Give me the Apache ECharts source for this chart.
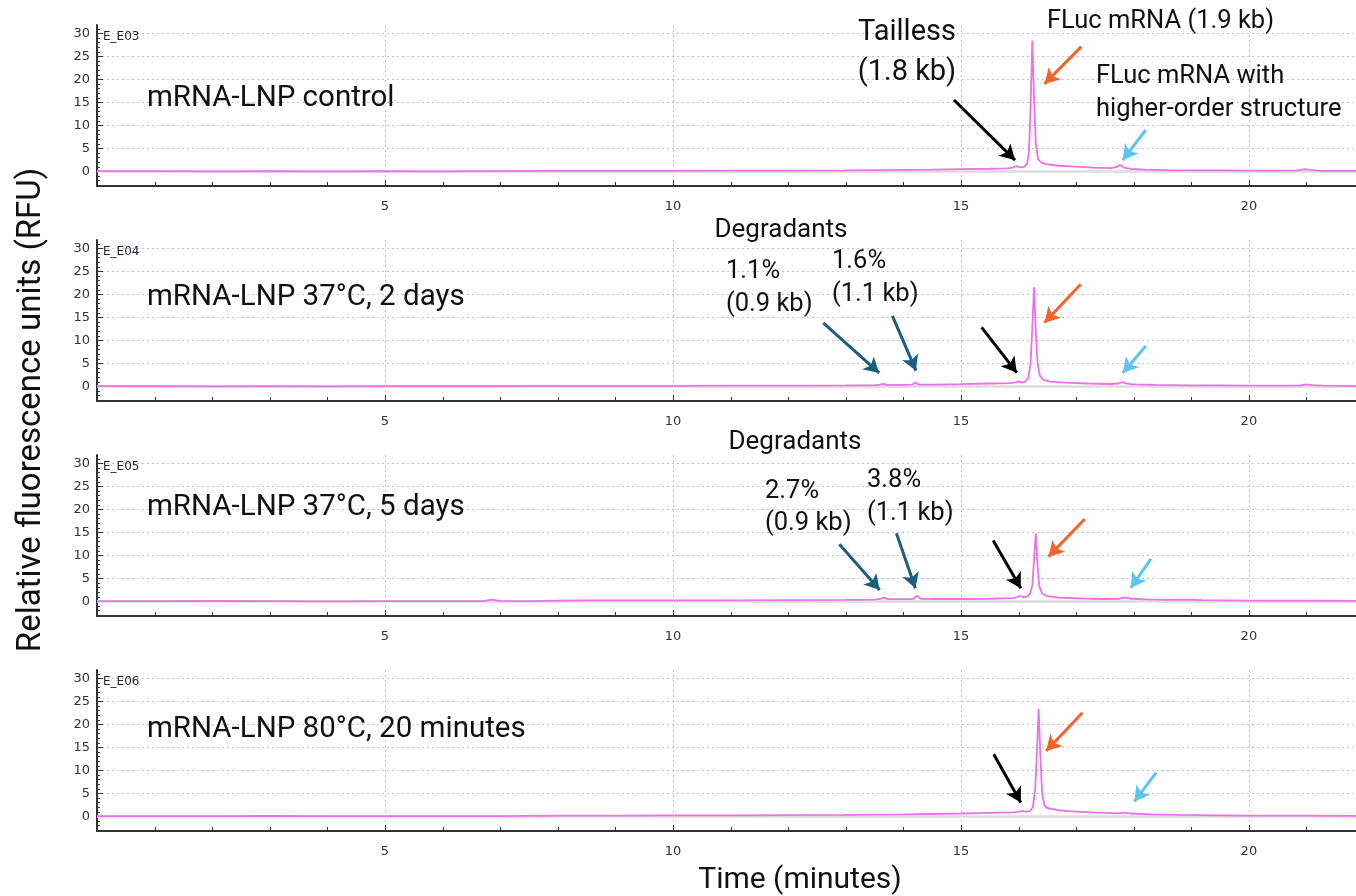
<!DOCTYPE html>
<html>
<head>
<meta charset="utf-8">
<script src="https://cdn.jsdelivr.net/npm/echarts@6/dist/echarts.min.js"></script>
<style>
html,body{margin:0;padding:0;background:#fff;}
#chart{width:1356px;height:896px;}
</style>
</head>
<body>
<div id="chart"></div>
<script>
// ---------- data ----------
const sampleNames = ['mRNA-LNP control', 'mRNA-LNP 37°C, 2 days', 'mRNA-LNP 37°C, 5 days', 'mRNA-LNP 80°C, 20 minutes'];
const wellIds = ['E_E03', 'E_E04', 'E_E05', 'E_E06'];
const xTickLabels = [5, 10, 15, 20];
const xMinorTicks = [1, 2, 3, 4, 6, 7, 8, 9, 11, 12, 13, 14, 16, 17, 18, 19, 21];
const yTickLabels = [0, 5, 10, 15, 20, 25, 30];
const yMinorTicks = [-3, -2, -1, 1, 2, 3, 4, 6, 7, 8, 9, 11, 12, 13, 14, 16, 17, 18, 19, 21, 22, 23, 24, 26, 27, 28, 29, 31];

// traces: [time (min), RFU]
const traceE03 = [[0,0.05],[1,0.05],[2,0.0],[3,0.05],[4,0.0],[5,0.05],[6,0.0],[7,0.05],[8,0.1],[9,0.1],[10,0.1],[11,0.15],[12,0.15],[13,0.2],[14,0.3],[14.5,0.35],[15,0.45],[15.5,0.55],[15.8,0.65],[15.9,0.8],[15.97,1.15],[16.03,0.85],[16.1,0.95],[16.15,1.6],[16.18,4],[16.21,14],[16.24,28.4],[16.27,16],[16.3,6],[16.34,2.6],[16.4,1.9],[16.5,1.5],[16.7,1.2],[17,1.0],[17.3,0.8],[17.6,0.7],[17.7,0.9],[17.76,1.35],[17.83,0.8],[17.95,0.5],[18.2,0.35],[18.6,0.25],[19,0.2],[19.5,0.2],[20,0.15],[20.5,0.15],[20.85,0.2],[20.97,0.45],[21.07,0.3],[21.2,0.12],[21.86,0.1]];
const traceE04 = [[0,0.05],[1,0.05],[2,0.0],[3,0.05],[4,0.0],[5,0.05],[6,0.05],[7,0.05],[8,0.1],[9,0.1],[10,0.1],[11,0.15],[12,0.15],[13,0.2],[13.5,0.25],[13.6,0.35],[13.65,0.5],[13.72,0.3],[14.0,0.3],[14.15,0.35],[14.21,0.8],[14.27,0.35],[14.6,0.35],[15,0.45],[15.5,0.6],[15.85,0.7],[15.93,0.8],[16.0,1.05],[16.06,0.8],[16.12,1.0],[16.17,1.8],[16.21,5],[16.24,13],[16.27,21.6],[16.3,12],[16.33,5],[16.37,2.3],[16.43,1.4],[16.55,1.0],[16.8,0.8],[17.2,0.6],[17.6,0.5],[17.72,0.6],[17.8,0.9],[17.88,0.6],[18.0,0.4],[18.4,0.3],[19,0.2],[19.5,0.2],[20,0.15],[20.5,0.15],[20.9,0.2],[21.0,0.4],[21.1,0.25],[21.3,0.15],[21.86,0.1]];
const traceE05 = [[0,0.05],[1,0.05],[2,0.1],[3,0.05],[4,0.0],[5,0.05],[6,0.05],[6.7,0.05],[6.85,0.35],[7.0,0.1],[7.5,0.05],[8,0.15],[8.5,0.2],[9,0.2],[10,0.2],[11,0.2],[12,0.25],[13,0.3],[13.5,0.35],[13.6,0.5],[13.66,0.8],[13.73,0.45],[14.0,0.45],[14.17,0.5],[14.24,1.2],[14.3,0.55],[14.6,0.5],[15,0.5],[15.5,0.55],[15.9,0.7],[15.97,0.85],[16.03,1.15],[16.09,0.9],[16.15,1.0],[16.2,1.6],[16.24,3.5],[16.27,9],[16.3,14.8],[16.33,8],[16.36,3.3],[16.41,1.7],[16.5,1.1],[16.7,0.8],[17.1,0.6],[17.5,0.5],[17.75,0.55],[17.85,0.85],[17.95,0.55],[18.2,0.4],[18.6,0.3],[18.9,0.35],[19.2,0.25],[19.6,0.2],[20,0.15],[20.5,0.15],[21,0.15],[21.86,0.1]];
const traceE06 = [[0,0.05],[1,0.05],[2,0.05],[3,0.1],[4,0.05],[5,0.05],[6,0.05],[7,0.05],[8,0.15],[9,0.15],[10,0.2],[11,0.2],[12,0.25],[13,0.3],[14,0.4],[14.5,0.5],[15,0.6],[15.5,0.75],[15.9,0.85],[16.0,0.95],[16.07,1.15],[16.13,0.95],[16.2,1.1],[16.25,2],[16.29,6],[16.32,14],[16.35,23.3],[16.38,13],[16.41,5],[16.45,2.4],[16.5,1.8],[16.7,1.3],[17.0,1.0],[17.4,0.8],[17.75,0.65],[17.85,0.8],[17.95,0.6],[18.3,0.4],[18.8,0.3],[19.5,0.2],[20,0.15],[21,0.15],[21.86,0.1]];
const traces = [traceE03, traceE04, traceE05, traceE06];

// annotation arrows per panel: [fromTime, fromRFU, toTime, toRFU, kind]
const arrowsE03 = [[14.88,15.5,15.94,2.43,'tailless'],[17.09,27.1,16.45,19.0,'main'],[18.21,8.97,17.81,2.43,'hos']];
const arrowsE04 = [[12.61,13.8,13.58,2.9,'deg'],[13.81,15.3,14.22,3.4,'deg'],[15.36,12.8,15.97,2.96,'tailless'],[17.08,22.2,16.45,13.8,'main'],[18.21,8.77,17.81,2.9,'hos']];
const arrowsE05 = [[12.89,12.4,13.59,2.46,'deg'],[13.88,14.8,14.21,2.83,'deg'],[15.56,13.2,16.04,2.83,'tailless'],[17.15,17.9,16.52,9.7,'main'],[18.30,9.2,17.95,2.9,'hos']];
const arrowsE06 = [[15.57,13.5,16.04,3.0,'tailless'],[17.11,22.5,16.48,14.2,'main'],[18.39,9.5,18.01,3.2,'hos']];
const arrows = [arrowsE03, arrowsE04, arrowsE05, arrowsE06];

// ---------- layout / style ----------
const FONT = 'Roboto';
const arrowColors = {tailless:'#000000', main:'#f8622a', hos:'#5cc6ee', deg:'#1b5e7e'};
const gridLeft = 97, gridH = 161, gridTops = [25, 240, 455, 670];
const X_MAX = 21.86, Y_MIN = -3.2, Y_MAX = 31.8;
const GRID_COLOR = '#c4c4c4', TICK_COLOR = '#333';

const grids = [], xAxes = [], yAxes = [], series = [];
gridTops.forEach((top, i) => {
  grids.push({left: gridLeft, right: 0, top: top, height: gridH, containLabel: false, outerBoundsMode: 'none'});
  xAxes.push({
    type: 'value', gridIndex: i, position: 'bottom', min: 0, max: X_MAX, interval: 5,
    axisLine: {show: true, onZero: false, lineStyle: {color: '#333', width: 2}},
    axisTick: {show: false},
    axisLabel: {show: true, customValues: xTickLabels, fontSize: 13, color: '#333', margin: 14, fontFamily: 'DejaVu Sans'},
    splitLine: {show: false}
  });
  yAxes.push({
    type: 'value', gridIndex: i, position: 'left', min: Y_MIN, max: Y_MAX,
    axisLine: {show: true, onZero: false, lineStyle: {color: '#333', width: 2}},
    axisTick: {show: false},
    axisLabel: {show: true, customValues: yTickLabels, fontSize: 13, color: '#333', margin: 7, fontFamily: 'DejaVu Sans'},
    splitLine: {show: false}
  });
  // grey baseline at zero
  series.push({
    type: 'line', xAxisIndex: i, yAxisIndex: i, data: [], z: 1, silent: true,
    markLine: {silent: true, z: 1, symbol: ['none', 'none'], label: {show: false}, animation: false,
      lineStyle: {color: '#dcdcdc', width: 2.5, type: 'solid'}, data: [{yAxis: 0}]}
  });
  // trace
  series.push({
    type: 'line', xAxisIndex: i, yAxisIndex: i, data: traces[i], z: 5,
    showSymbol: false, symbol: 'none', smooth: false, animation: false,
    lineStyle: {color: '#ee70ea', width: 1.8}
  });
  // arrows
  series.push({
    type: 'line', xAxisIndex: i, yAxisIndex: i, data: [], z: 6, silent: true,
    markLine: {silent: true, z: 6, animation: false, symbol: ['none', 'arrow'], symbolSize: [13, 15],
      label: {show: false},
      data: arrows[i].map(a => [
        {coord: [a[0], a[1]], lineStyle: {color: arrowColors[a[4]], width: 3, type: 'solid'}},
        {coord: [a[2], a[3]]}
      ])}
  });
});

const chart = echarts.init(document.getElementById('chart'), null, {renderer: 'canvas'});
chart.setOption({
  backgroundColor: '#ffffff',
  animation: false,
  grid: grids,
  xAxis: xAxes,
  yAxis: yAxes,
  series: series
});

// ---------- grid lines, ticks (positions from the chart's own scales) ----------
const graphic = [];
function seg(x1, y1, x2, y2, color, dash, z) {
  graphic.push({type: 'line', silent: true, z: z, shape: {x1: x1, y1: y1, x2: x2, y2: y2},
    style: {stroke: color, lineWidth: 1, lineDash: dash || null}});
}
gridTops.forEach((top, i) => {
  const px = v => chart.convertToPixel({gridIndex: i}, v);
  const yTop = px([0, Y_MAX])[1], yBot = px([0, Y_MIN])[1];
  const xL = px([0, 0])[0], xR = px([X_MAX, 0])[0];
  xTickLabels.forEach(t => {
    const x = Math.round(px([t, 0])[0]) + 0.5;
    seg(x, yTop, x, yBot, GRID_COLOR, [2, 3], -1);
    seg(x, yBot, x, yBot - 6, TICK_COLOR, null, 1);
  });
  xMinorTicks.forEach(t => {
    const x = Math.round(px([t, 0])[0]) + 0.5;
    seg(x, yBot, x, yBot - 4, TICK_COLOR, null, 1);
  });
  yTickLabels.forEach(v => {
    const y = Math.round(px([0, v])[1]) + 0.5;
    if (v !== 0) seg(xL, y, xR, y, GRID_COLOR, [2, 3], -1);
    seg(xL, y, xL + 6, y, TICK_COLOR, null, 1);
  });
  yMinorTicks.forEach(v => {
    const y = Math.round(px([0, v])[1]) + 0.5;
    seg(xL, y, xL + 3, y, TICK_COLOR, null, 1);
  });
});

// ---------- text ----------
function txt(text, x, y, size, align) {
  graphic.push({
    type: 'text', x: x, y: y, silent: true, z: 10,
    style: {text: text, fontSize: size, fontFamily: FONT, fill: '#111', textAlign: align || 'left', textVerticalAlign: 'middle'}
  });
}
const labelY = [99, 298, 508, 730];
sampleNames.forEach((n, i) => txt(n, 147, labelY[i], 29.5));
wellIds.forEach((w, i) => graphic.push({type: 'text', x: 103, y: gridTops[i] + 12, silent: true, z: 10,
  style: {text: w, fontSize: 12, fontFamily: 'DejaVu Sans', fill: '#1c1c3a', textAlign: 'left', textVerticalAlign: 'middle'}}));
// panel 1
txt('Tailless', 907, 33, 29, 'center');
txt('(1.8 kb)', 907, 73, 29, 'center');
txt('FLuc mRNA (1.9 kb)', 1047, 22, 25.5, 'left');
txt('FLuc mRNA with', 1096, 77, 25.5, 'left');
txt('higher-order structure', 1096, 110, 25.5, 'left');
// panel 2
txt('Degradants', 781, 230, 26, 'center');
txt('1.1%', 726, 272, 25.5, 'left');
txt('(0.9 kb)', 726, 305, 25.5, 'left');
txt('1.6%', 832, 262, 25.5, 'left');
txt('(1.1 kb)', 832, 295, 25.5, 'left');
// panel 3
txt('Degradants', 795, 442, 26, 'center');
txt('2.7%', 765, 492, 25.5, 'left');
txt('(0.9 kb)', 765, 524, 25.5, 'left');
txt('3.8%', 867, 481, 25.5, 'left');
txt('(1.1 kb)', 867, 514, 25.5, 'left');
// axis titles
txt('Time (minutes)', 800, 880, 30, 'center');
graphic.push({type: 'text', x: 32, y: 410, rotation: Math.PI / 2, silent: true, z: 10,
  style: {text: 'Relative fluorescence units (RFU)', fontSize: 33, fontFamily: FONT, fill: '#111', textAlign: 'center', textVerticalAlign: 'middle'}});

chart.setOption({graphic: graphic});
</script>
</body>
</html>
